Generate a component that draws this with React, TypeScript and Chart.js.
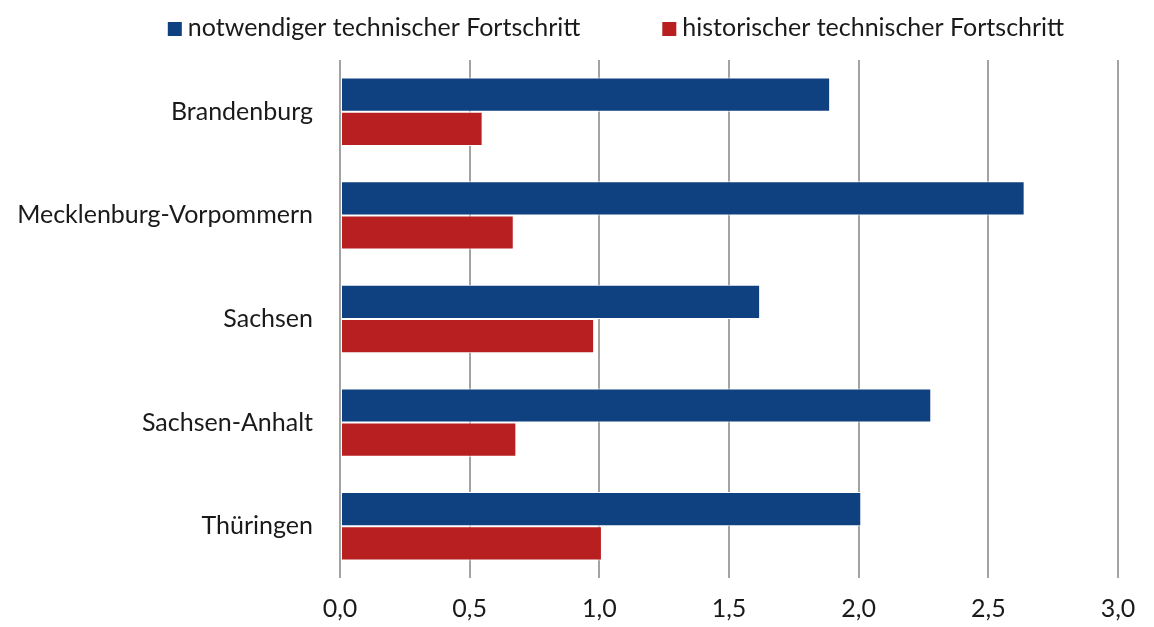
import React, { useEffect, useRef } from "react";
import { Chart, registerables } from "chart.js";

Chart.register(...registerables);

const categories = ["Brandenburg", "Mecklenburg-Vorpommern", "Sachsen", "Sachsen-Anhalt", "Thüringen"];
const notwendig = [1.89, 2.64, 1.62, 2.28, 2.01];
const historisch = [0.55, 0.67, 0.98, 0.68, 1.01];
const seriesLabels = ["notwendiger technischer Fortschritt", "historischer technischer Fortschritt"];
const xTicks = [0, 0.5, 1, 1.5, 2, 2.5, 3];

const FONT = 'Lato, "Noto Sans", sans-serif';
const FONT_SIZE = 25;
const BLUE = "#0f407f";
const RED = "#b81f21";

const legendPlugin = {
  id: "customLegend",
  afterDraw(chart: any) {
    const ctx = chart.ctx;
    ctx.save();
    ctx.font = `${FONT_SIZE}px ${FONT}`;
    ctx.textBaseline = "middle";
    const items = chart.data.datasets.map((d: any) => ({ text: d.label, color: d.backgroundColor }));
    const box = 14, gap = 6, itemGap = 82;
    const widths = items.map((i: any) => box + gap + ctx.measureText(i.text).width);
    const total = widths.reduce((a: number, b: number) => a + b, 0) + itemGap * (items.length - 1);
    let x = 616 - total / 2;
    const y = 28;
    items.forEach((it: any, idx: number) => {
      ctx.fillStyle = it.color;
      ctx.fillRect(x, y - 6, box, box);
      ctx.fillStyle = "#1a1a1a";
      ctx.textAlign = "left";
      ctx.fillText(it.text, x + box + gap, y);
      x += widths[idx] + itemGap;
    });
    ctx.restore();
  },
};

export default function App() {
  const ref = useRef<HTMLCanvasElement>(null);
  useEffect(() => {
    if (!ref.current) return;
    const chart = new Chart(ref.current, {
      type: "bar",
      data: {
        labels: categories,
        datasets: [
          {
            label: seriesLabels[0],
            data: notwendig,
            backgroundColor: BLUE,
            borderColor: "#ffffff",
            borderWidth: 1,
            borderSkipped: false,
            categoryPercentage: 0.66,
            barPercentage: 1,
          },
          {
            label: seriesLabels[1],
            data: historisch,
            backgroundColor: RED,
            borderColor: "#ffffff",
            borderWidth: 1,
            borderSkipped: false,
            categoryPercentage: 0.66,
            barPercentage: 1,
          },
        ],
      },
      options: {
        indexAxis: "y",
        responsive: false,
        animation: false,
        layout: { padding: { top: 60, right: 36, left: 0, bottom: 0 } },
        plugins: {
          legend: { display: false },
          tooltip: { enabled: false },
        },
        scales: {
          x: {
            min: 0,
            max: 3,
            afterBuildTicks: (s: any) => {
              s.ticks = xTicks.map((v) => ({ value: v }));
            },
            afterFit: (s: any) => {
              s.height = 49;
            },
            grid: { color: "#a3a3a3", lineWidth: 2, drawTicks: false },
            border: { display: false },
            ticks: {
              padding: 16,
              color: "#1a1a1a",
              font: { family: FONT, size: FONT_SIZE },
              callback: (v: any) => Number(v).toFixed(1).replace(".", ","),
            },
          },
          y: {
            afterFit: (s: any) => {
              s.width = 340;
            },
            grid: { display: false, drawTicks: false },
            border: { display: false },
            ticks: {
              padding: 27,
              color: "#1a1a1a",
              font: { family: FONT, size: FONT_SIZE },
            },
          },
        },
      },
      plugins: [legendPlugin],
    } as any);
    return () => chart.destroy();
  }, []);
  return (
    <div style={{ position: "fixed", left: 0, top: 0, width: 1154, height: 627, background: "#fff" }}>
      <canvas ref={ref} width={1154} height={627} style={{ display: "block" }} />
    </div>
  );
}
